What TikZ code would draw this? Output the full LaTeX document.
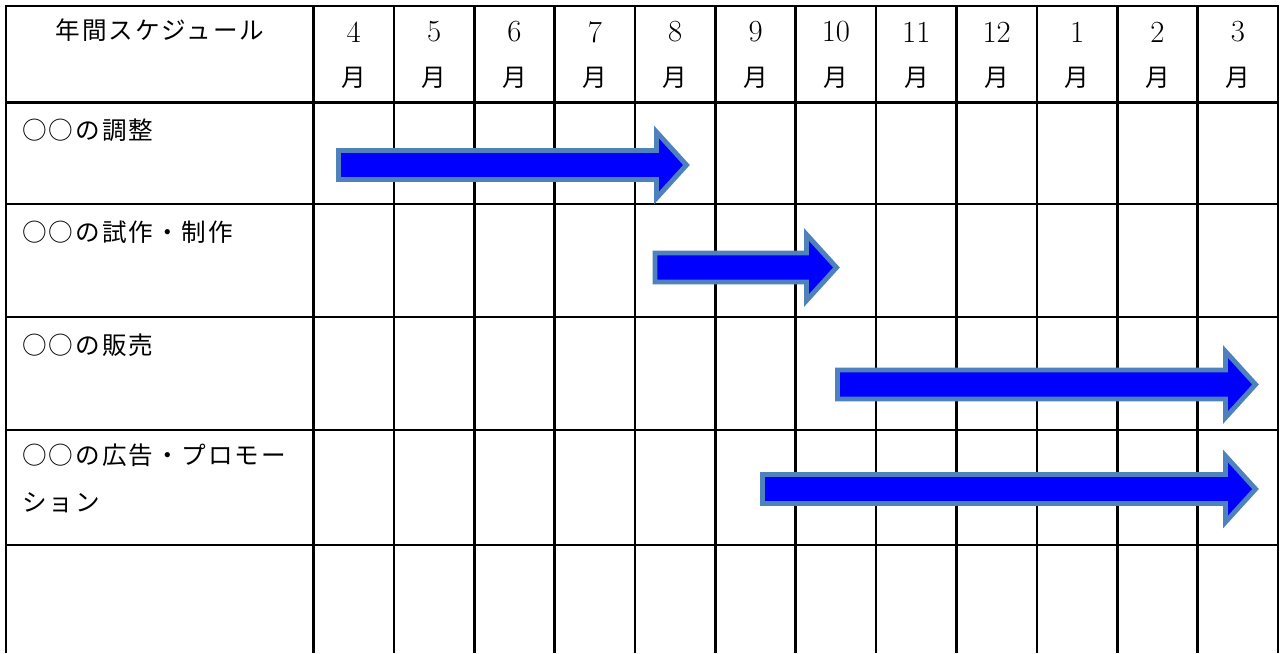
\documentclass[tikz,border=0pt]{standalone}
\usepackage{fontspec}
\newfontfamily\jp[LetterSpace=8]{Noto Sans CJK JP}
\usepackage{xcolor}
\usetikzlibrary{positioning}
\definecolor{BarBlue}{RGB}{0, 0, 255}
\definecolor{BarEdge}{RGB}{79, 129, 189}

% bar: start x, tip x, center y (pixels)
\newcommand{\planbar}[3]{%
  \draw[bar] (#1,#3-14.5) -- (#2-30,#3-14.5) -- (#2-30,#3-33) -- (#2,#3)
    -- (#2-30,#3+33) -- (#2-30,#3+14.5) -- (#1,#3+14.5) -- cycle;}

\begin{document}
\begin{tikzpicture}[x=0.02cm, y=-0.02cm,
            grid/.style={draw=black, line width=1.5pt},
            bar/.style={draw=BarEdge, fill=BarBlue, line width=2.8pt, line join=miter},
            head/.style={inner sep=0pt, font=\jp\fontsize{14}{16}\selectfont},
            num/.style={inner sep=0pt, font=\fontsize{17.5}{20}\selectfont},
            task/.style={inner sep=0pt, anchor=west, font=\jp\fontsize{14}{16}\selectfont}
        ]
        \useasboundingbox (0,0) rectangle (1280,653);

        % The Grid
        \draw[grid] (6,653) -- (6,6) -- (1278,6) -- (1278,653);
        \foreach \y in {102.5,204,317,430,545}
            \draw[grid] (6,\y) -- (1278,\y);
        \foreach \i in {0,...,11}
            \draw[grid] (313.5+80.375*\i,6) -- (313.5+80.375*\i,653);

        % Header
        \node[head] (title) at (160,30) {年間スケジュール};
        \foreach \m [count=\i] in {4,5,6,7,8,9,10,11,12,1,2,3} {
            \node[num] (d\i) at (273.3+80.375*\i,32) {\m};
            \node[head] (u\i) at (273.3+80.375*\i,78) {月};
        }

        % Tasks
        \node[task] (t1) at (22,130) {○○の調整};
        \node[task] (t2) at (22,232) {○○の試作・制作};
        \node[task] (t3) at (22,345) {○○の販売};
        \node[task] (t4) at (22,455) {○○の広告・プロモー};
        \node[task] (t4b) at (22,503) {ション};

        % Bars
        \planbar{338.5}{686.5}{165}
        \planbar{655}{836.5}{267.5}
        \planbar{837.5}{1255.5}{384.5}
        \planbar{762.5}{1255.5}{489}

        \end{tikzpicture}
\end{document}
